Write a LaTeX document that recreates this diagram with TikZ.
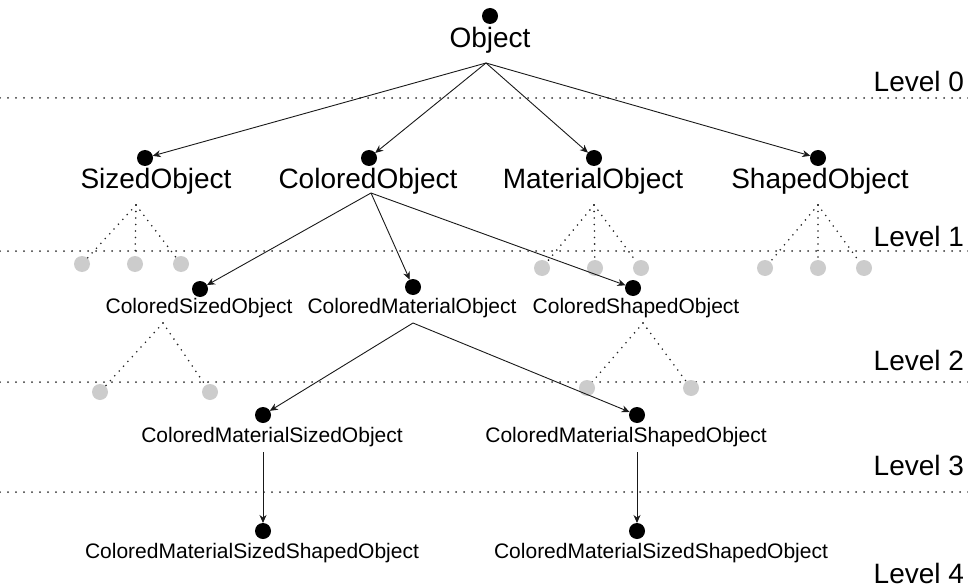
\documentclass[tikz,border=0pt]{standalone}
\usepackage{fontspec}
\setmainfont{Liberation Sans}
\usetikzlibrary{arrows.meta}
\tikzset{
  every node/.style={inner sep=0pt, outer sep=0pt},
  bigtxt/.style={anchor=base, font=\fontsize{28}{34}\selectfont},
  smalltxt/.style={anchor=base, font=\fontsize{21}{25}\selectfont},
  lvltxt/.style={anchor=base east, font=\fontsize{28}{34}\selectfont},
  blackdot/.style={circle, fill=black, minimum size=16pt},
  graydot/.style={circle, fill=black!20, minimum size=16pt},
  levelline/.style={draw=black!80, line width=2pt, line cap=round, dash pattern=on 0pt off 8pt},
  hidden/.style={draw=black!85, line width=1.8pt, line cap=round, dash pattern=on 0pt off 6.5pt},
  link/.style={draw=black!90, line width=0.9pt, -{Stealth[length=8pt,width=7pt,inset=2.5pt]}},
}
\begin{document}
\begin{tikzpicture}[x=1pt, y=-1pt]
\useasboundingbox (0,0) rectangle (968,588);

% level separators
\foreach \yy/\nm in {98/l0, 251/l1, 382/l2, 492/l3}{
  \coordinate (\nm w) at (0,\yy);
  \coordinate (\nm e) at (968,\yy);
  \path[levelline] (\nm w) -- (\nm e);
}
\node[lvltxt] (lab0) at (964,92) {Level 0};
\node[lvltxt] (lab1) at (964,246) {Level 1};
\node[lvltxt] (lab2) at (964,370) {Level 2};
\node[lvltxt] (lab3) at (964,475) {Level 3};
\node[lvltxt] (lab4) at (964,583) {Level 4};

% level 0
\node[blackdot] (d0) at (490,16) {};
\node[bigtxt] (t0) at (490,48) {Object};
\coordinate (s0) at (486,63);

% level 1
\node[blackdot] (dSz) at (145,158) {};
\node[blackdot] (dCo) at (369,158) {};
\node[blackdot] (dMa) at (594,158) {};
\node[blackdot] (dSh) at (818,158) {};
\node[bigtxt] (tSz) at (156,188) {SizedObject};
\node[bigtxt] (tCo) at (368,188) {ColoredObject};
\node[bigtxt] (tMa) at (593,188) {MaterialObject};
\node[bigtxt] (tSh) at (820,188) {ShapedObject};
\foreach \d in {dSz,dCo,dMa,dSh} \path[link] (s0) -- (\d);

% omitted subclasses below level 1
\coordinate (aSz) at (136,205);
\node[graydot] (gSz1) at (82,264) {};
\node[graydot] (gSz2) at (135,264) {};
\node[graydot] (gSz3) at (181,264) {};
\coordinate (aMa) at (594,205);
\node[graydot] (gMa1) at (542,268) {};
\node[graydot] (gMa2) at (595,268) {};
\node[graydot] (gMa3) at (641,268) {};
\coordinate (aSh) at (818,205);
\node[graydot] (gSh1) at (765,268) {};
\node[graydot] (gSh2) at (818,268) {};
\node[graydot] (gSh3) at (864,268) {};
\foreach \a/\g in {aSz/gSz,aMa/gMa,aSh/gSh}{
  \foreach \i in {1,2,3} \path[hidden] (\a) -- (\g\i);
}

% level 2
\coordinate (sCo) at (371,193);
\node[blackdot] (dCS) at (200,289) {};
\node[blackdot] (dCM) at (413,287) {};
\node[blackdot] (dCH) at (633,288) {};
\node[smalltxt] (tCS) at (199,313) {ColoredSizedObject};
\node[smalltxt] (tCM) at (412,313) {ColoredMaterialObject};
\node[smalltxt] (tCH) at (636,313) {ColoredShapedObject};
\foreach \d in {dCS,dCM,dCH} \path[link] (sCo) -- (\d);

% omitted subclasses below level 2
\coordinate (aCS) at (163,323);
\node[graydot] (gCS1) at (100,392) {};
\node[graydot] (gCS2) at (210,392) {};
\coordinate (aCH) at (643,323);
\node[graydot] (gCH1) at (587,388) {};
\node[graydot] (gCH2) at (691,388) {};
\foreach \a/\g in {aCS/gCS,aCH/gCH}{
  \foreach \i in {1,2} \path[hidden] (\a) -- (\g\i);
}

% level 3
\coordinate (sCM) at (413,323);
\node[blackdot] (dCMS) at (263,415) {};
\node[blackdot] (dCMH) at (637,415) {};
\node[smalltxt] (tCMS) at (272,442) {ColoredMaterialSizedObject};
\node[smalltxt] (tCMH) at (626,442) {ColoredMaterialShapedObject};
\foreach \d in {dCMS,dCMH} \path[link] (sCM) -- (\d);

% level 4
\coordinate (sCMS) at (263,452);
\coordinate (sCMH) at (637,452);
\node[blackdot] (dAll1) at (263,531) {};
\node[blackdot] (dAll2) at (637,531) {};
\node[smalltxt] (tAll1) at (252,558) {ColoredMaterialSizedShapedObject};
\node[smalltxt] (tAll2) at (661,558) {ColoredMaterialSizedShapedObject};
\path[link] (sCMS) -- (dAll1);
\path[link] (sCMH) -- (dAll2);
\end{tikzpicture}
\end{document}
